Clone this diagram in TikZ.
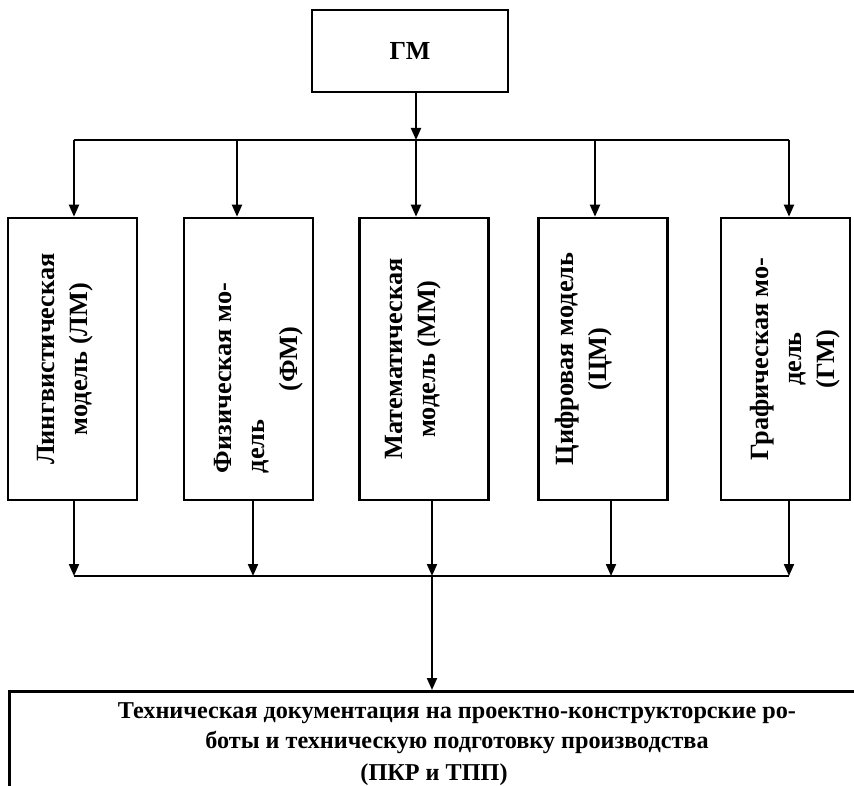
\documentclass[tikz,border=0pt]{standalone}
\usepackage{fontspec}
\setmainfont{Liberation Serif}
\usetikzlibrary{arrows.meta,calc}
\tikzset{
  box/.style={draw, line width=2.6pt, inner sep=0pt},
  modbox/.style={box, minimum width=129pt, minimum height=282pt},
  vtext/.style={rotate=90, inner sep=0pt, font=\fontsize{26.3}{33}\selectfont\bfseries},
  htext/.style={inner sep=0pt, font=\fontsize{24.2}{30}\selectfont\bfseries, align=center},
  feed/.style={-{Triangle[length=12pt, width=10pt]}, line width=2pt},
  bus/.style={line width=2pt},
}
\begin{document}
\begin{tikzpicture}[x=1pt, y=-1pt]
  \useasboundingbox (0,0) rectangle (854,786);
  \clip (0,0) rectangle (854,786);
  \node[box, minimum width=196pt, minimum height=82pt, font=\fontsize{26}{30}\selectfont\bfseries] (gm) at (410,51) {ГМ\hspace{16pt}};
  \node[modbox] (lm) at (72.5,359) {};
  \node[modbox] (fm) at (248.5,359) {};
  \node[modbox] (mm) at (424,359) {};
  \node[modbox] (cm) at (603,359) {};
  \node[modbox] (grm) at (785.5,359) {};
  \node[box, minimum width=862pt, minimum height=130pt, anchor=north west] (doc) at (8,690) {};
  \node[vtext, align=center] (lmt) at (65,359) {Лингвистическая\\модель (ЛМ)};
  \node[vtext] (fmt) at (258.5,359) {\parbox{228pt}{\raggedright Физическая мо-\\дель\par\centering (ФМ)}};
  \node[vtext, align=center] (mmt) at (413.5,359) {Математическая\\модель (ММ)};
  \node[vtext, align=center] (cmt) at (584,359) {Цифровая модель\\(ЦМ)};
  \node[vtext, align=center] (grmt) at (795,359) {Графическая мо-\\дель\\(ГМ)};
  \node[htext] (doct) at (457,728) {Техническая документация на проектно-конструкторские ро-\\боты и техническую подготовку производства};
  \node[htext] (docab) at (434,775) {(ПКР и ТПП)};
  \coordinate (tgm) at (416,140);
  \draw[feed] (gm.south -| tgm) -- (tgm);
  \foreach \n/\x in {lm/74, fm/237, mm/416, cm/595, grm/789} {
    \coordinate (t\n) at (\x,140);
    \draw[feed] (t\n) -- (t\n |- \n.north);
  }
  \draw[bus] (tlm) -- (tgrm);
  \foreach \n/\x in {lm/74, fm/253, mm/432, cm/611, grm/789} {
    \coordinate (b\n) at (\x,576);
    \draw[feed] (b\n |- \n.south) -- (b\n);
  }
  \draw[bus] (blm) -- (bgrm);
  \draw[feed] (bmm) -- (bmm |- doc.north);
\end{tikzpicture}
\end{document}
